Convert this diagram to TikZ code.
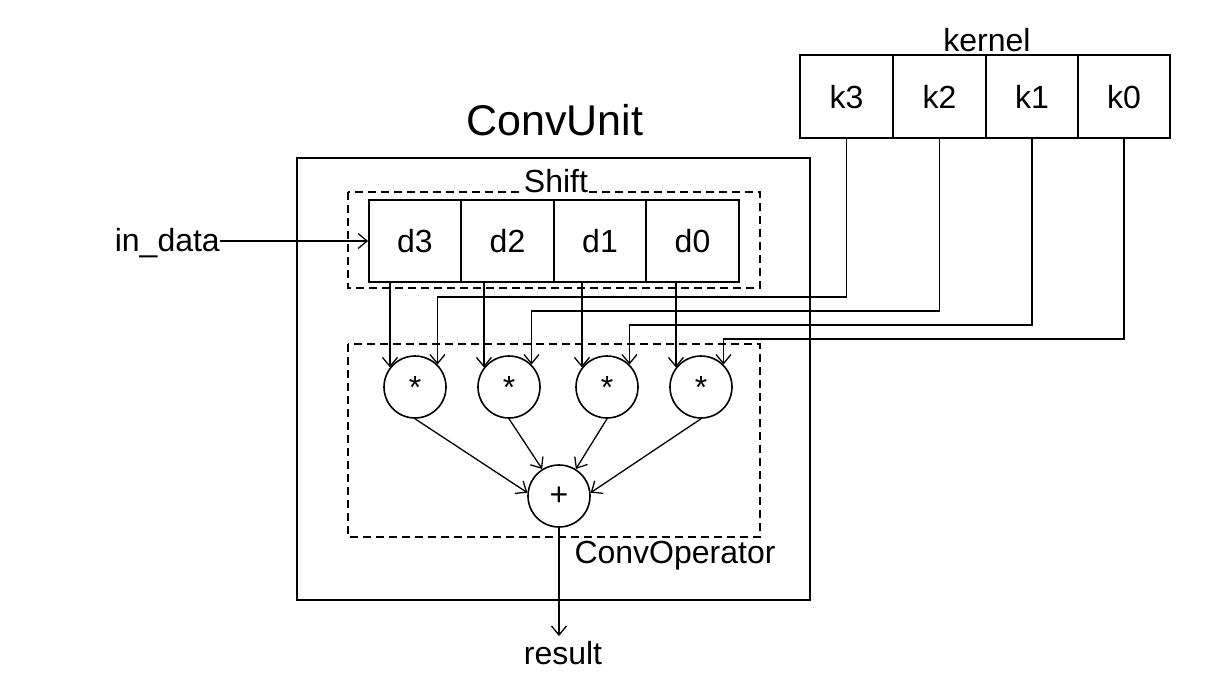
\documentclass[tikz,border=0pt]{standalone}
\usepackage{fontspec}
\setmainfont{Liberation Sans}
\usetikzlibrary{arrows.meta,calc}
\begin{document}
\begin{tikzpicture}[x=1pt,y=-1pt,
  txt/.style={font=\fontsize{32}{38}\selectfont, inner sep=0pt},
  cell/.style={draw, line width=1.8pt, minimum height=83pt, inner sep=0pt, text height=23pt, text depth=0pt, font=\fontsize{32}{38}\selectfont},
  circ/.style={draw, circle, line width=1.6pt, minimum size=62pt, inner sep=0pt, font=\fontsize{32}{38}\selectfont},
  frame/.style={draw, line width=1.8pt},
  dbox/.style={draw, line width=1.8pt, dash pattern=on 8pt off 5pt},
  arr/.style={line width=1.3pt, -{Straight Barb[length=9pt,width=15pt,line width=1.3pt]}},
  conn/.style={line width=1.3pt}]
\useasboundingbox (0,0) rectangle (1210,699);

% kernel
\node[cell, minimum width=93pt] (k3) at (846.5,96.5) {k3};
\node[cell, minimum width=93pt] (k2) at (939.5,96.5) {k2};
\node[cell, minimum width=92pt] (k1) at (1032,96.5) {k1};
\node[cell, minimum width=92pt] (k0) at (1124,96.5) {k0};
\node[txt] (kernel) at (987,40) {kernel};

% ConvUnit
\node[txt, font=\fontsize{43}{50}\selectfont] (cu) at (555,120) {ConvUnit};
\draw[frame] (297,158) rectangle (810,600);

% Shift
\draw[dbox] (348,192) rectangle (760,288);
\node[txt, anchor=base, fill=white, text depth=1.5pt, inner xsep=1pt] (shift) at (556,192) {Shift};
\node[cell, minimum width=92pt, minimum height=82pt] (d3) at (415,241) {d3};
\node[cell, minimum width=93pt, minimum height=82pt] (d2) at (507.5,241) {d2};
\node[cell, minimum width=92pt, minimum height=82pt] (d1) at (600,241) {d1};
\node[cell, minimum width=93pt, minimum height=82pt] (d0) at (692.5,241) {d0};

% ConvOperator
\draw[dbox] (348,344) rectangle (760,537);
\node[txt] (cop) at (675,556) {ConvOperator};
\node[circ] (m3) at (415,387) {*};
\node[circ] (m2) at (509,387) {*};
\node[circ] (m1) at (607,387) {*};
\node[circ] (m0) at (701,387) {*};
\node[circ] (plus) at (559,496) {+};

% in_data and result
\node[txt, anchor=base east] (indata) at (220,251) {in\_data};
\node[txt, anchor=base] (result) at (563,664) {result};
\coordinate (rend) at (559,636);

% arrows
\draw[arr] (indata.east |- d3.west) -- (d3.west);
\foreach \i in {3,2,1,0} {
  \draw[arr] (m\i.142 |- d\i.south) -- (m\i.142);
}
\coordinate (h3) at (0,297);
\coordinate (h2) at (0,311);
\coordinate (h1) at (0,325);
\coordinate (h0) at (0,339);
\foreach \i in {3,2,1,0} {
  \draw[arr] (k\i.south) -- (k\i.south |- h\i) -| (m\i.45);
}
\draw[arr] (m3.south) -- (plus.174);
\draw[arr] (m2.south) -- (plus.122);
\draw[arr] (m1.south) -- (plus.58);
\draw[arr] (m0.south) -- (plus.6);
\draw[arr] (plus.south) -- (rend);
\end{tikzpicture}
\end{document}
